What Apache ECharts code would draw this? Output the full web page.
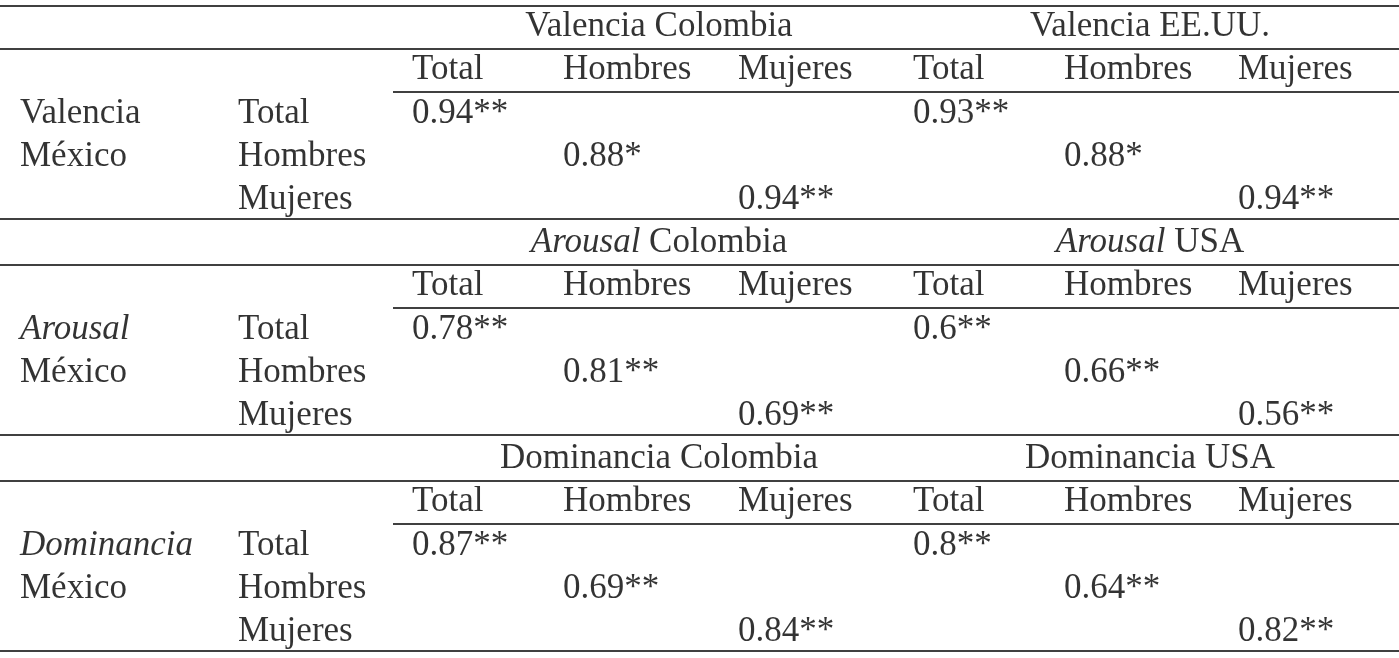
<!DOCTYPE html>
<html><head><meta charset="utf-8">
<script src="https://cdn.jsdelivr.net/npm/echarts@6/dist/echarts.min.js"></script>
<style>html,body{margin:0;padding:0;background:#fff}#c{width:1399px;height:658px}</style>
</head><body><div id="c"></div>
<script>
// ---- data ----
const measures = ["Valencia", "Arousal", "Dominancia"];
const measureItalic = [false, true, true];
const headerCol = ["Valencia Colombia", "{i|Arousal} Colombia", "Dominancia Colombia"];
const headerUsa = ["Valencia EE.UU.", "{i|Arousal} USA", "Dominancia USA"];
const groups = ["Total", "Hombres", "Mujeres"];
const valColombia = [0.94, 0.88, 0.94];
const starsColombia = ["**", "*", "**"];
const valUsa = [0.93, 0.88, 0.94];
const starsUsa = ["**", "*", "**"];
const arousalColombia = [0.78, 0.81, 0.69];
const arousalUsa = [0.6, 0.66, 0.56];
const domColombia = [0.87, 0.69, 0.84];
const domUsa = [0.8, 0.64, 0.82];
const colombiaSets = [valColombia, arousalColombia, domColombia];
const usaSets = [valUsa, arousalUsa, domUsa];
const starSetsCol = [starsColombia, ["**","**","**"], ["**","**","**"]];
const starSetsUsa = [starsUsa, ["**","**","**"], ["**","**","**"]];

// ---- layout ----
const colX = [20, 238, 412, 563, 738, 913, 1064, 1238];
const headerCenterX = [659, 1150];
const partialStartX = 393;

const cells = [];   // left aligned
const centered = [];
const lines = [];
for (let b = 0; b < 3; b++) {
  const r0 = b * 5;
  centered.push([headerCenterX[0], r0, headerCol[b]]);
  centered.push([headerCenterX[1], r0, headerUsa[b]]);
  for (let k = 0; k < 3; k++) {
    cells.push([colX[2 + k], r0 + 1, groups[k]]);
    cells.push([colX[5 + k], r0 + 1, groups[k]]);
    cells.push([colX[1], r0 + 2 + k, groups[k]]);
    cells.push([colX[2 + k], r0 + 2 + k, String(colombiaSets[b][k]) + starSetsCol[b][k]]);
    cells.push([colX[5 + k], r0 + 2 + k, String(usaSets[b][k]) + starSetsUsa[b][k]]);
  }
  cells.push([colX[0], r0 + 2, measureItalic[b] ? "{i|" + measures[b] + "}" : measures[b]]);
  cells.push([colX[0], r0 + 3, "México"]);
  if (b === 0) lines.push([{coord:[0, -0.5]}, {coord:[1399, -0.5]}]);
  lines.push([{coord:[0, r0 + 0.5]}, {coord:[1399, r0 + 0.5]}]);
  lines.push([{coord:[partialStartX, r0 + 1.5]}, {coord:[1399, r0 + 1.5]}]);
  lines.push([{coord:[0, r0 + 4.45]}, {coord:[1399, r0 + 4.45]}]);
}

const font = {fontFamily: "Liberation Serif", fontSize: 35, color: "#000"};
const rich = {i: Object.assign({fontStyle: "italic"}, font)};

const chart = echarts.init(document.getElementById('c'));
chart.setOption({
  animation: false,
  backgroundColor: "#fff",
  grid: {left: 0, right: 0, top: 0, bottom: 0},
  xAxis: {type: "value", min: 0, max: 1399, show: false},
  yAxis: {type: "value", inverse: true, min: -0.625, max: 14.607, show: false},
  series: [
    {
      type: "scatter", symbolSize: 0, data: cells, clip: false, silent: true,
      label: Object.assign({show: true, position: "right", distance: 0, align: "left", verticalAlign: "middle",
        formatter: p => p.data[2], rich: rich}, font),
      markLine: {symbol: "none", silent: true, label: {show: false},
        lineStyle: {color: "#000", width: 1.5, type: "solid"}, data: lines}
    },
    {
      type: "scatter", symbolSize: 0, data: centered, clip: false, silent: true,
      label: Object.assign({show: true, position: "inside", align: "center", verticalAlign: "middle",
        formatter: p => p.data[2], rich: rich}, font)
    }
  ]
});
</script></body></html>
